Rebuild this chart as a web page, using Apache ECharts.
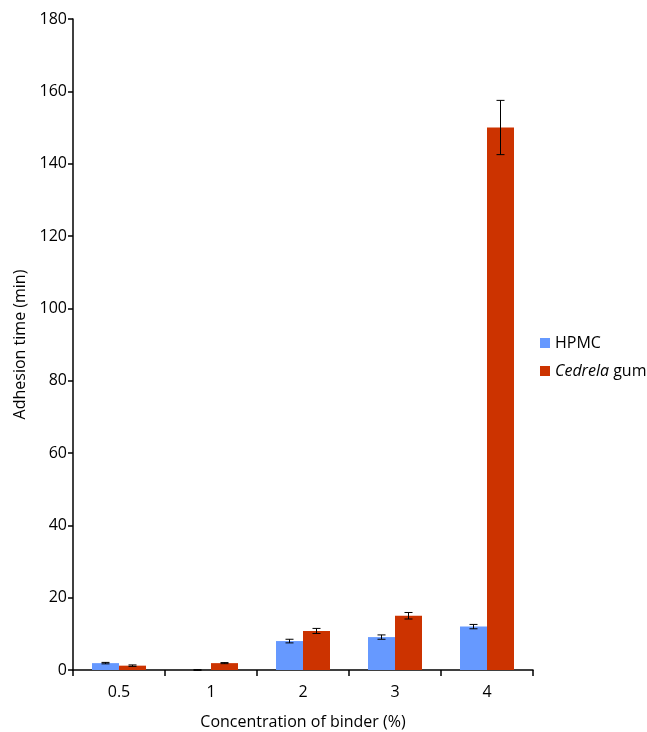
<!DOCTYPE html>
<html><head><meta charset="utf-8">
<script src="https://cdn.jsdelivr.net/npm/echarts@6/dist/echarts.min.js"></script>
<style>html,body{margin:0;padding:0;background:#fff}#c{width:647px;height:732px}</style>
</head><body><div id="c"></div>
<script>
const categories = ['0.5', '1', '2', '3', '4'];
const hpmc = [1.9, 0, 8.0, 9.1, 12.0];
const hpmcErr = [0.2, 0.1, 0.5, 0.6, 0.6];
const cedrela = [1.2, 1.9, 10.8, 15.0, 150.0];
const cedrelaErr = [0.2, 0.15, 0.7, 0.9, 7.5];
const yTicks = [0, 20, 40, 60, 80, 100, 120, 140, 160, 180];

const BW = 27;
const FONT = '"Open Sans", "Liberation Sans", sans-serif';
const FS = 16;
const chart = echarts.init(document.getElementById('c'));

function errSeries(vals, errs, offset) {
  return {
    type: 'custom',
    silent: true,
    z: 10,
    data: vals.map((v, i) => [i, v, errs[i]]),
    renderItem: function (params, api) {
      const i = api.value(0), v = api.value(1), e = api.value(2);
      const hi = api.coord([i, v + e]);
      const lo = api.coord([i, v - e]);
      const x = hi[0] + offset;
      const cap = 4;
      const st = { stroke: '#000', lineWidth: 1 };
      return { type: 'group', children: [
        { type: 'line', shape: { x1: x, y1: hi[1], x2: x, y2: lo[1] }, style: st },
        { type: 'line', shape: { x1: x - cap, y1: hi[1], x2: x + cap, y2: hi[1] }, style: st },
        { type: 'line', shape: { x1: x - cap, y1: lo[1], x2: x + cap, y2: lo[1] }, style: st }
      ]};
    }
  };
}

chart.setOption({
  animation: false,
  grid: { left: 73, right: 114, top: 19, bottom: 62, containLabel: false, outerBoundsMode: 'none' },
  legend: {
    orient: 'vertical', left: 535, top: 330, itemWidth: 10, itemHeight: 10, itemGap: 12,
    icon: 'rect',
    data: ['HPMC', 'Cedrela gum'],
    textStyle: { fontFamily: FONT, fontSize: FS, color: '#000',
      rich: { it: { fontStyle: 'italic', fontFamily: FONT, fontSize: FS, color: '#000' },
              n: { fontFamily: FONT, fontSize: FS, color: '#000' } } },
    formatter: function (n) { return n === 'Cedrela gum' ? '{it|Cedrela} {n|gum}' : '{n|' + n + '}'; }
  },
  xAxis: {
    type: 'category', data: categories,
    name: 'Concentration of binder (%)', nameLocation: 'middle', nameGap: 44,
    nameTextStyle: { fontFamily: FONT, fontSize: FS, color: '#000' },
    axisLine: { lineStyle: { color: '#000', width: 1.5 } },
    axisTick: { show: true, length: 6, lineStyle: { color: '#000', width: 1.5 } },
    axisLabel: { fontFamily: FONT, fontSize: FS, color: '#000', margin: 14 }
  },
  yAxis: {
    type: 'value', min: 0, max: 180, interval: 20,
    name: 'Adhesion time (min)', nameLocation: 'middle', nameGap: 45,
    nameTextStyle: { fontFamily: FONT, fontSize: FS, color: '#000' },
    axisLine: { show: true, lineStyle: { color: '#000', width: 1.5 } },
    axisTick: { show: true, length: 5, lineStyle: { color: '#000', width: 1.5 } },
    splitLine: { show: false },
    axisLabel: { fontFamily: FONT, fontSize: FS, color: '#000', margin: 6,
      formatter: function (v) { return yTicks.includes(v) ? String(v) : ''; } }
  },
  series: [
    { name: 'HPMC', type: 'bar', data: hpmc, barWidth: BW, barGap: '0%', itemStyle: { color: '#6699FF' } },
    { name: 'Cedrela gum', type: 'bar', data: cedrela, barWidth: BW, barGap: '0%', itemStyle: { color: '#CC3300' } },
    errSeries(hpmc, hpmcErr, -BW / 2),
    errSeries(cedrela, cedrelaErr, BW / 2)
  ]
});
</script></body></html>
